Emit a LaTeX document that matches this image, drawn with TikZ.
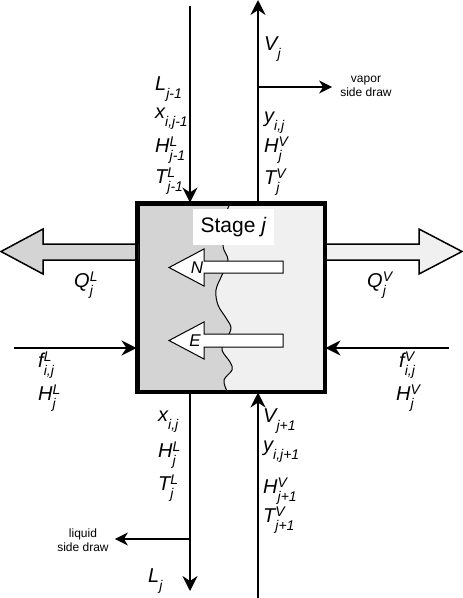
\documentclass[tikz,border=0pt]{standalone}
\usepackage{fontspec}
\setmainfont{Liberation Sans}
\usetikzlibrary{arrows.meta, positioning, calc}
\definecolor{liqgray}{HTML}{D4D4D4}
\definecolor{vapgray}{HTML}{F0F0F0}
% stream variable: symbol, superscript, subscript
\newcommand{\flowvar}[3]{#1\rlap{\raisebox{6pt}{\fontsize{14}{14}\selectfont #2}}\raisebox{-8pt}{\fontsize{14}{14}\selectfont #3}}

\begin{document}
\begin{tikzpicture}[
    x=1pt, y=-1pt,
    stream/.style={-{Stealth[length=15pt, width=15pt, inset=5pt]}, line width=2pt},
    draw arrow/.style={-{Stealth[length=13pt, width=13pt, inset=4pt]}, line width=1.4pt},
    heat/.style={draw, line width=1.5pt},
    flux/.style={draw, fill=white, line width=1pt},
    lbl/.style={anchor=base west, inner sep=0pt, font=\fontsize{20}{22}\selectfont\itshape},
    note/.style={align=center, inner sep=0pt, font=\fontsize{12}{14}\selectfont}
]
    \useasboundingbox (0,0) rectangle (463,598);

    % 1. Stage body: liquid side, vapor side and the interface
    \fill[vapgray] (138,204) rectangle (324,391);
    \fill[liqgray] (138,204) -- plot[smooth, tension=0.6] coordinates {(230,204) (226,215) (223,245) (228,260) (222,275) (216,290) (218,305) (226,318) (231,328) (226,340) (222,350) (230,362) (232,370) (224,380) (227,391)} -- (138,391) -- cycle;
    \draw[line width=1pt] plot[smooth, tension=0.6] coordinates {(230,204) (226,215) (223,245) (228,260) (222,275) (216,290) (218,305) (226,318) (231,328) (226,340) (222,350) (230,362) (232,370) (224,380) (227,391)};
    \node[draw, line width=3pt, minimum width=186pt, minimum height=187pt, inner sep=0pt] (stage) at (231,297.5) {};
    \node[fill=white, minimum width=81pt, minimum height=36pt, inner sep=0pt, font=\fontsize{21}{24}\selectfont] (title) at (233.5,227) {Stage \textit{j}};

    % 2. Mass and energy transfer across the interface
    \draw[flux] (283,261) -- (204,261) -- (204,249) -- (169,267.5) -- (204,286) -- (204,273) -- (283,273) -- cycle;
    \draw[flux] (283,334) -- (204,334) -- (204,322) -- (169,340.5) -- (204,359) -- (204,347) -- (283,347) -- cycle;
    \node[font=\fontsize{17}{20}\selectfont\itshape] (N) at (197,268) {N};
    \node[font=\fontsize{17}{20}\selectfont\itshape] (E) at (195,341) {E};

    % 3. Heat duties
    \draw[heat, fill=liqgray] (138,244) -- (43,244) -- (43,229) -- (1,251.5) -- (43,274) -- (43,260) -- (138,260);
    \draw[heat, fill=vapgray] (324,244) -- (419,244) -- (419,229) -- (462,251.5) -- (419,274) -- (419,260) -- (324,260);
    \draw[line width=3pt] (stage.north west) rectangle (stage.south east);

    % 4. Feeds
    \coordinate (fL) at (14,348);
    \coordinate (fV) at (449,348);
    \draw[stream] (fL) -- (fL -| stage.west);
    \draw[stream] (fV) -- (fV -| stage.east);

    % 5. Liquid and vapor streams
    \coordinate (Lin) at (190,6);
    \coordinate (Lout) at (190,591);
    \coordinate (Vout) at (258,0);
    \coordinate (Vin) at (258,598);
    \draw[stream] (Lin) -- (Lin |- stage.north);
    \draw[stream] (Lin |- stage.south) -- (Lout);
    \draw[stream] (Vin) -- (Vin |- stage.south);
    \draw[stream] (Vout |- stage.north) -- (Vout);

    % 6. Side draws
    \node[note] (vsd) at (366,86) {vapor\\side draw};
    \node[note] (lsd) at (83,540) {liquid\\side draw};
    \draw[draw arrow] (Vout |- 0,87) -- ([xshift=-8pt]vsd.west |- 0,87);
    \draw[draw arrow] (Lin |- 0,539) -- ([xshift=6pt]lsd.east |- 0,539);

    % 7. Stream labels
    \node[lbl] (Ljm) at (155,90) {\flowvar{L}{}{j-1}};
    \node[lbl] (xjm) at (155,118) {\flowvar{x}{}{i,j-1}};
    \node[lbl] (HLjm) at (155,152) {\flowvar{H}{L}{j-1}};
    \node[lbl] (TLjm) at (155,183) {\flowvar{T}{L}{j-1}};

    \node[lbl] (Vj) at (264,50) {\flowvar{V}{}{j}};
    \node[lbl] (yj) at (264,122) {\flowvar{y}{}{i,j}};
    \node[lbl] (HVj) at (264,152) {\flowvar{H}{V}{j}};
    \node[lbl] (TVj) at (264,184) {\flowvar{T}{V}{j}};

    \node[lbl] (xj) at (158,421) {\flowvar{x}{}{i,j}};
    \node[lbl] (HLj) at (158,457) {\flowvar{H}{L}{j}};
    \node[lbl] (TLj) at (158,490) {\flowvar{T}{L}{j}};
    \node[lbl] (Lj) at (148,582) {\flowvar{L}{}{j}};

    \node[lbl] (Vjp) at (263,422) {\flowvar{V}{}{j+1}};
    \node[lbl] (yjp) at (263,451) {\flowvar{y}{}{i,j+1}};
    \node[lbl] (HVjp) at (263,493) {\flowvar{H}{V}{j+1}};
    \node[lbl] (TVjp) at (263,522) {\flowvar{T}{V}{j+1}};

    \node[lbl] (QL) at (74,287) {\flowvar{Q}{L}{j}};
    \node[lbl] (QV) at (367,287) {\flowvar{Q}{V}{j}};

    \node[lbl] (fLl) at (38,367) {\flowvar{f}{L}{i,j}};
    \node[lbl] (HLf) at (38,400) {\flowvar{H}{L}{j}};
    \node[lbl] (fVl) at (399,367) {\flowvar{f}{V}{i,j}};
    \node[lbl] (HVf) at (396,400) {\flowvar{H}{V}{j}};

\end{tikzpicture}
\end{document}
